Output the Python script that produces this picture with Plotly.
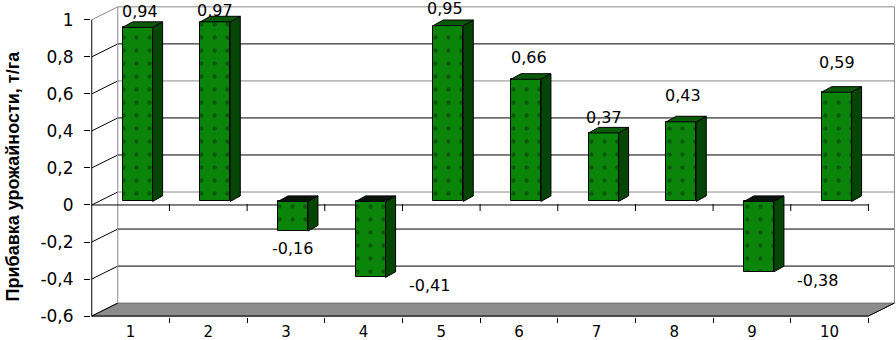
import plotly.graph_objects as go

# ---------------- data ----------------
categories = list(range(1, 11))
values = [0.94, 0.97, -0.16, -0.41, 0.95, 0.66, 0.37, 0.43, -0.38, 0.59]
y_ticks = [-0.6, -0.4, -0.2, 0, 0.2, 0.4, 0.6, 0.8, 1.0]
y_tick_labels = ["-0,6", "-0,4", "-0,2", "0", "0,2", "0,4", "0,6", "0,8", "1"]
x_tick_labels = [str(c) for c in categories]
axis_title = "Прибавка урожайности, т/га"

# ---------------- style ----------------
FRONT = "#0a850a"
DOTS = "#062f06"
SIDE = "#054505"
TOP_POS = "#0b5a0b"
TOP_NEG = "#0a140a"
FLOOR = "#8c8c8c"
GRID_GRAY = "#8a8a8a"
FONT = "DejaVu Sans"

# pseudo-3D geometry (in axis units)
DX, DY = 0.335, 0.07        # depth of the back wall
BX, BY = 0.09, 0.019        # bar front-face offset into the depth
SX, SY = 0.129, 0.03        # bar depth
W = 0.386                   # bar width
# per-label pixel placement (xshift, yshift) relative to the bar end
label_shift = [(2, 16), (0, 11.5), (0, -17), (59, -8), (-3, 17),
               (3, 22), (0, 15.5), (2, 26), (59, -9), (0, 29.5)]

x0, x1 = categories[0] - 0.5, categories[-1] + 0.5
ymin, ymax = y_ticks[0], y_ticks[-1]

fig = go.Figure()

# front faces
fig.add_trace(go.Bar(
    x=[c + BX for c in categories], y=values, base=BY, width=W,
    marker=dict(color=FRONT, line=dict(color="black", width=1),
                pattern=dict(shape=".", fgcolor=DOTS, bgcolor=FRONT,
                             size=13, solidity=0.09)),
    hoverinfo="skip", showlegend=False))

# side faces and top faces
side_x, side_y, tp_x, tp_y, tn_x, tn_y = [], [], [], [], [], []
for c, v in zip(categories, values):
    xl = c + BX - W / 2
    xr = c + BX + W / 2
    lo, hi = min(0, v) + BY, max(0, v) + BY
    side_x += [xr, xr, xr + SX, xr + SX, xr, None]
    side_y += [lo, hi, hi + SY, lo + SY, lo, None]
    tx = [xl, xr, xr + SX, xl + SX, xl, None]
    ty = [hi, hi, hi + SY, hi + SY, hi, None]
    if v >= 0:
        tp_x += tx; tp_y += ty
    else:
        tn_x += tx; tn_y += ty

for xs, ys, col in [(side_x, side_y, SIDE), (tp_x, tp_y, TOP_POS), (tn_x, tn_y, TOP_NEG)]:
    fig.add_trace(go.Scatter(x=xs, y=ys, mode="lines", fill="toself", fillcolor=col,
                             line=dict(color="black", width=1), hoverinfo="skip",
                             showlegend=False))

# tick marks on the zero line (category boundaries)
fig.add_trace(go.Scatter(
    x=[c + 0.5 for c in categories], y=[-0.0135] * len(categories), mode="markers",
    marker=dict(symbol="line-ns", size=5, line=dict(color="black", width=1)),
    hoverinfo="skip", showlegend=False))

# ---------------- frame shapes ----------------
shapes = []
# floor
shapes.append(dict(type="path", xref="x", yref="y", layer="below",
                   path=f"M {x0},{ymin} L {x1},{ymin} L {x1+DX},{ymin+DY} L {x0+DX},{ymin+DY} Z",
                   fillcolor=FLOOR, line=dict(color="#6e6e6e", width=1)))
# back wall gridlines + diagonals
for v in y_ticks:
    col = GRID_GRAY if v in (0, 0.6, 1.0) else "black"
    if v != ymin:
        shapes.append(dict(type="line", xref="x", yref="y", layer="below",
                           x0=x0 + DX, x1=x1 + DX, y0=v + DY, y1=v + DY,
                           line=dict(color=col, width=1)))
    shapes.append(dict(type="line", xref="x", yref="y", layer="below",
                       x0=x0, x1=x0 + DX, y0=v, y1=v + DY,
                       line=dict(color=GRID_GRAY if v == ymax else "black", width=1)))
# back wall left and right edges
for xe in (x0 + DX, x1 + DX):
    shapes.append(dict(type="line", xref="x", yref="y", layer="below",
                       x0=xe, x1=xe, y0=ymin + DY, y1=ymax + DY,
                       line=dict(color=GRID_GRAY, width=1)))
# front axis lines
shapes.append(dict(type="line", xref="x", yref="y", layer="below",
                   x0=x0, x1=x0, y0=ymin, y1=ymax, line=dict(color="black", width=1)))
shapes.append(dict(type="line", xref="x", yref="y", layer="below",
                   x0=x0, x1=x1, y0=ymin, y1=ymin, line=dict(color="black", width=1)))
shapes.append(dict(type="line", xref="x", yref="y", layer="below",
                   x0=x1, x1=x1 + DX, y0=ymin, y1=ymin + DY, line=dict(color="black", width=1)))
shapes.append(dict(type="line", xref="x", yref="y", layer="below",
                   x0=x0, x1=x1, y0=0, y1=0, line=dict(color="black", width=1)))

# ---------------- labels ----------------
annotations = []
for c, v, (dx, dy) in zip(categories, values, label_shift):
    annotations.append(dict(
        x=c + BX, y=v + BY, xref="x", yref="y", text=f"{v:.2f}".replace(".", ","),
        showarrow=False, xanchor="center", yanchor="middle", xshift=dx, yshift=dy,
        font=dict(family=FONT, size=16, color="black")))
annotations.append(dict(
    x=-0.0975, y=0.452, xref="paper", yref="paper", text=axis_title, textangle=-90,
    showarrow=False, xanchor="center", yanchor="middle",
    font=dict(family="Liberation Sans Narrow, Liberation Sans, Arial", size=18,
              color="black", weight="bold")))

fig.update_layout(
    width=896, height=340,
    margin=dict(l=91, r=0, t=5, b=23),
    paper_bgcolor="white", plot_bgcolor="white",
    shapes=shapes, annotations=annotations, showlegend=False,
    bargap=0,
    xaxis=dict(range=[0.49, 10.855], tickmode="array", tickvals=categories,
               ticktext=x_tick_labels, ticks="", showgrid=False, zeroline=False,
               showline=False, ticklabelstandoff=4, automargin=False,
               minor=dict(tickmode="array", tickvals=[c + 0.5 for c in categories],
                          ticks="outside", ticklen=5, tickcolor="black", showgrid=False),
               tickfont=dict(family=FONT, size=15, color="black"), fixedrange=True),
    yaxis=dict(range=[-0.605, 1.08], tickmode="array", tickvals=y_ticks,
               ticktext=y_tick_labels, ticks="outside", ticklen=6, tickcolor="black",
               showgrid=False, zeroline=False, showline=False, ticklabelstandoff=7,
               automargin=False,
               tickfont=dict(family=FONT, size=17, color="black"), fixedrange=True),
)

fig.write_html("out.html", config={"displayModeBar": False},
               post_script="document.body.style.margin='0';")
